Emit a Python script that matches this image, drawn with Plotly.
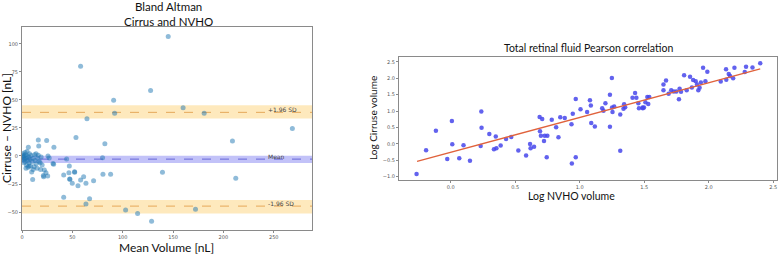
import plotly.graph_objects as go

# ---------------- Data: Bland Altman (left) ----------------
ba_mean = [58.2, 64.5, 91, 92, 127.7, 145.2, 160, 180.9, 268.5,
           82.3, 80, 80.4, 88, 139.5, 209, 212.3,
           102.9, 114.8, 128.7, 172.3,
           53.6, 44.3, 47, 41.4, 46.6, 52.2, 47.3, 49.9, 55.6, 58.2, 61.2, 63.5, 71.1, 41.4, 63.5, 67.1,
           1, 1.5, 2, 2.5, 3, 3, 3.5, 4, 4.5, 5, 5, 5.5, 6, 6.3, 6.5, 7, 7.5, 8, 8.5, 9, 9.6, 10,
           10.6, 11, 12, 12.5, 13, 13.9, 14, 15, 15.5, 16.2, 16.6, 16.2, 17, 18, 18.5, 19, 20,
           21.2, 21.5, 22.2, 23.8, 24.5, 25.5, 25.8, 27, 30.8, 31.4, 31.7, 2, 4, 0.5, 1, 7, 11,
           47.6, 52.3]
ba_diff = [80.1, 33.3, 49.7, 38.1, 58.3, 106.5, 42.9, 38.1, 24.5,
           11, -1.5, -16.4, -16.4, -14.6, 13.4, -19.9,
           -48.2, -51.2, -58.3, -47.6,
           16.4, -2.7, -8.9, -17, -14.9, -14, -20.5, -24.4, -26.5, -21.4, -18.5, -24.4, -22, -36.9, -42.9, -38.1,
           2, -1, 0.5, -3, 3, -5, 1, -2, -8, 0, 4, -4, -10, 7.8, -1, -6, 2, -3, -9, 0.5, -14.3, -5,
           -21, -2, -9.5, 1, -4, 2, -7, -11, -2, 14.3, 8.9, 0.6, -5, -6, -12, -1, -8,
           -17.3, -18.5, -12.5, -14.9, 13.7, -17.9, 0, -1.8, -6.8, -7.4, 7.8, -6, -11, 0, -3, -9, -12,
           -20.8, -14.6]

mean_diff = -2.8
mean_band = [-6.2, 0.3]
upper_loa = 38.9
upper_band = [33.4, 45.3]
lower_loa = -44.7
lower_band = [-51.2, -39.3]
loa_labels = ["+1.96 SD", "Mean", "-1.96 SD"]
left_xticks = [0, 50, 100, 150, 200, 250]
left_yticks = [-50, -25, 0, 25, 50, 75, 100]

# ---------------- Data: Pearson correlation (right) ----------------
log_nvho = [-0.264, -0.19, -0.114, -0.026, 0.01, 0.013, 0.067, 0.10, 0.15, 0.238, 0.24, 0.233,
            0.30, 0.336, 0.355, 0.35, 0.388, 0.43, 0.47, 0.525,
            0.585, 0.616, 0.62, 0.647, 0.693, 0.724, 0.70, 0.73, 0.75, 0.745, 0.836, 0.94, 0.97, 1.315,
            0.69, 0.71, 0.784, 0.818, 0.85, 0.885, 0.937, 0.947, 0.97, 1.007, 1.058, 1.08, 1.087,
            1.09, 1.118, 1.175, 1.185, 1.20, 1.235, 1.235, 1.25, 1.252, 1.255, 1.268, 1.315, 1.345,
            1.353, 1.34, 1.41, 1.43, 1.44, 1.455, 1.46, 1.49, 1.51, 1.525, 1.54,
            1.488, 1.499, 1.532,
            1.65, 1.67, 1.65, 1.69, 1.71, 1.73, 1.75, 1.77, 1.775, 1.786, 1.81, 1.83, 1.856, 1.87,
            1.88, 1.90, 1.91, 1.92, 1.93, 1.94, 1.957, 1.975, 1.99, 2.094, 2.135, 2.137, 2.156,
            2.166, 2.19, 2.20, 2.28, 2.29, 2.34, 2.40]
log_cirruse = [-0.92, -0.19, 0.40, -0.46, 0.70, -0.01, -0.44, -0.04, -0.51, 0.99, 0.49, -0.06,
               0.30, -0.16, -0.13, 0.23, -0.05, 0.15, 0.21, -0.20,
               -0.35, 0.0, -0.13, -0.09, 0.39, 0.09, 0.25, 0.25, 0.25, -0.41, 0.20, -0.60, -0.41, -0.21,
               0.82, 0.76, 0.74, 0.51, 0.81, 0.79, 0.60, 0.92, 1.37, 1.06, 0.97, 1.33, 1.17,
               0.64, 0.53, 1.09, 1.01, 1.24, 1.50, 0.52, 2.01, 1.11, 0.97, 1.14, 0.90, 1.21,
               1.12, 1.07, 1.41, 1.55, 1.41, 1.24, 1.09, 1.09, 1.27, 1.43, 1.43,
               1.11, 1.11, 1.22,
               1.81, 1.93, 1.64, 1.53, 1.64, 1.60, 1.60, 1.36, 1.68, 1.59, 2.09, 1.64, 2.05, 1.72,
               1.95, 1.91, 1.81, 1.64, 1.71, 1.87, 2.32, 1.91, 2.20, 1.90, 2.28, 1.96, 2.13,
               2.07, 2.00, 2.32, 2.19, 2.35, 2.33, 2.46]
fit_x = [-0.26, 2.40]
fit_y = [-0.53, 2.29]
right_xticks = [0.0, 0.5, 1.0, 1.5, 2.0, 2.5]
right_yticks = [-1.0, -0.5, 0.0, 0.5, 1.0, 1.5, 2.0, 2.5]

# ---------------- Figure ----------------
W, H = 780, 254
LFONT = "Lato, 'Open Sans', sans-serif"
TICKFONT = dict(family="DejaVu Sans", size=5, color="#555")

fig = go.Figure()

# bands (left)
band_specs = [(upper_band, "rgba(253,200,90,0.40)"),
              (mean_band, "rgba(120,120,240,0.45)"),
              (lower_band, "rgba(253,200,90,0.40)")]
for (lo, hi), col in band_specs:
    fig.add_shape(type="rect", xref="x domain", yref="y", x0=0, x1=1, y0=lo, y1=hi,
                  fillcolor=col, line_width=0, layer="below")
line_specs = [(upper_loa, "#e6a85a"), (mean_diff, "#6767d8"), (lower_loa, "#e6a85a")]
for val, col in line_specs:
    fig.add_shape(type="line", xref="x domain", yref="y", x0=0, x1=1, y0=val, y1=val,
                  line=dict(color=col, width=1, dash="dash"), layer="below")
for lab, val in zip(loa_labels, [upper_loa, mean_diff, lower_loa]):
    fig.add_annotation(x=242, y=val, xref="x", yref="y", text=lab, showarrow=False,
                       xanchor="left", yanchor="middle", yshift=3,
                       font=dict(family="DejaVu Sans", size=6, color="#444"))

fig.add_trace(go.Scatter(x=ba_mean, y=ba_diff, mode="markers",
                         marker=dict(size=5, color="rgba(31,119,180,0.5)", line_width=0),
                         xaxis="x", yaxis="y", showlegend=False))

# right
fig.add_trace(go.Scatter(x=log_nvho, y=log_cirruse, mode="markers",
                         marker=dict(size=4.5, color="rgba(70,70,235,0.85)", line_width=0),
                         xaxis="x2", yaxis="y2", showlegend=False))
fig.add_trace(go.Scatter(x=fit_x, y=fit_y, mode="lines",
                         line=dict(color="#e0623c", width=1.3),
                         xaxis="x2", yaxis="y2", showlegend=False))

def ax_common():
    return dict(showgrid=False, zeroline=False, showline=True, linecolor="#8a8a8a",
                linewidth=1, mirror=True, ticks="outside", ticklen=2, tickcolor="#8a8a8a",
                tickfont=TICKFONT, automargin=False)

fig.update_layout(
    width=W, height=H, margin=dict(l=0, r=0, t=0, b=0),
    paper_bgcolor="white", plot_bgcolor="white",
    xaxis=dict(domain=[22 / W, 312 / W], range=[0, 288], tickvals=left_xticks,
               anchor="y", **ax_common()),
    yaxis=dict(domain=[24 / H, 227 / H], range=[-66, 115], tickvals=left_yticks,
               anchor="x", **ax_common()),
    xaxis2=dict(domain=[399 / W, 777 / W], range=[-0.40, 2.53], tickvals=right_xticks,
                tickformat=".1f", anchor="y2", **ax_common()),
    yaxis2=dict(domain=[74 / H, 197 / H], range=[-1.10, 2.65], tickvals=right_yticks,
                tickformat=".1f", anchor="x2", **ax_common()),
)

texts = [
    dict(x=168 / W, y=1 - 14 / H, text="Bland Altman<br>Cirrus and NVHO", size=11.5),
    dict(x=166 / W, y=1 - 247.5 / H, text="Mean Volume [nL]", size=12),
    dict(x=588 / W, y=1 - 48 / H, text="Total retinal fluid Pearson correlation", size=10.5),
    dict(x=571 / W, y=1 - 196 / H, text="Log NVHO volume", size=10.5),
]
for t in texts:
    fig.add_annotation(x=t["x"], y=t["y"], xref="paper", yref="paper", text=t["text"],
                       showarrow=False, xanchor="center", yanchor="middle", borderpad=0,
                       font=dict(family=LFONT, size=t["size"], color="#111"))
fig.add_annotation(x=6 / W, y=1 - 128 / H, xref="paper", yref="paper",
                   text="Cirruse \u2013 NVHO [nL]", textangle=-90, showarrow=False,
                   xanchor="center", yanchor="middle",
                   font=dict(family=LFONT, size=12, color="#111"))
fig.add_annotation(x=373 / W, y=1 - 118 / H, xref="paper", yref="paper",
                   text="Log Cirruse volume", textangle=-90, showarrow=False,
                   xanchor="center", yanchor="middle",
                   font=dict(family=LFONT, size=10, color="#111"))

fig.write_html("out.html", config={"displayModeBar": False},
               post_script="document.body.style.margin='0';document.body.style.overflow='hidden';")
